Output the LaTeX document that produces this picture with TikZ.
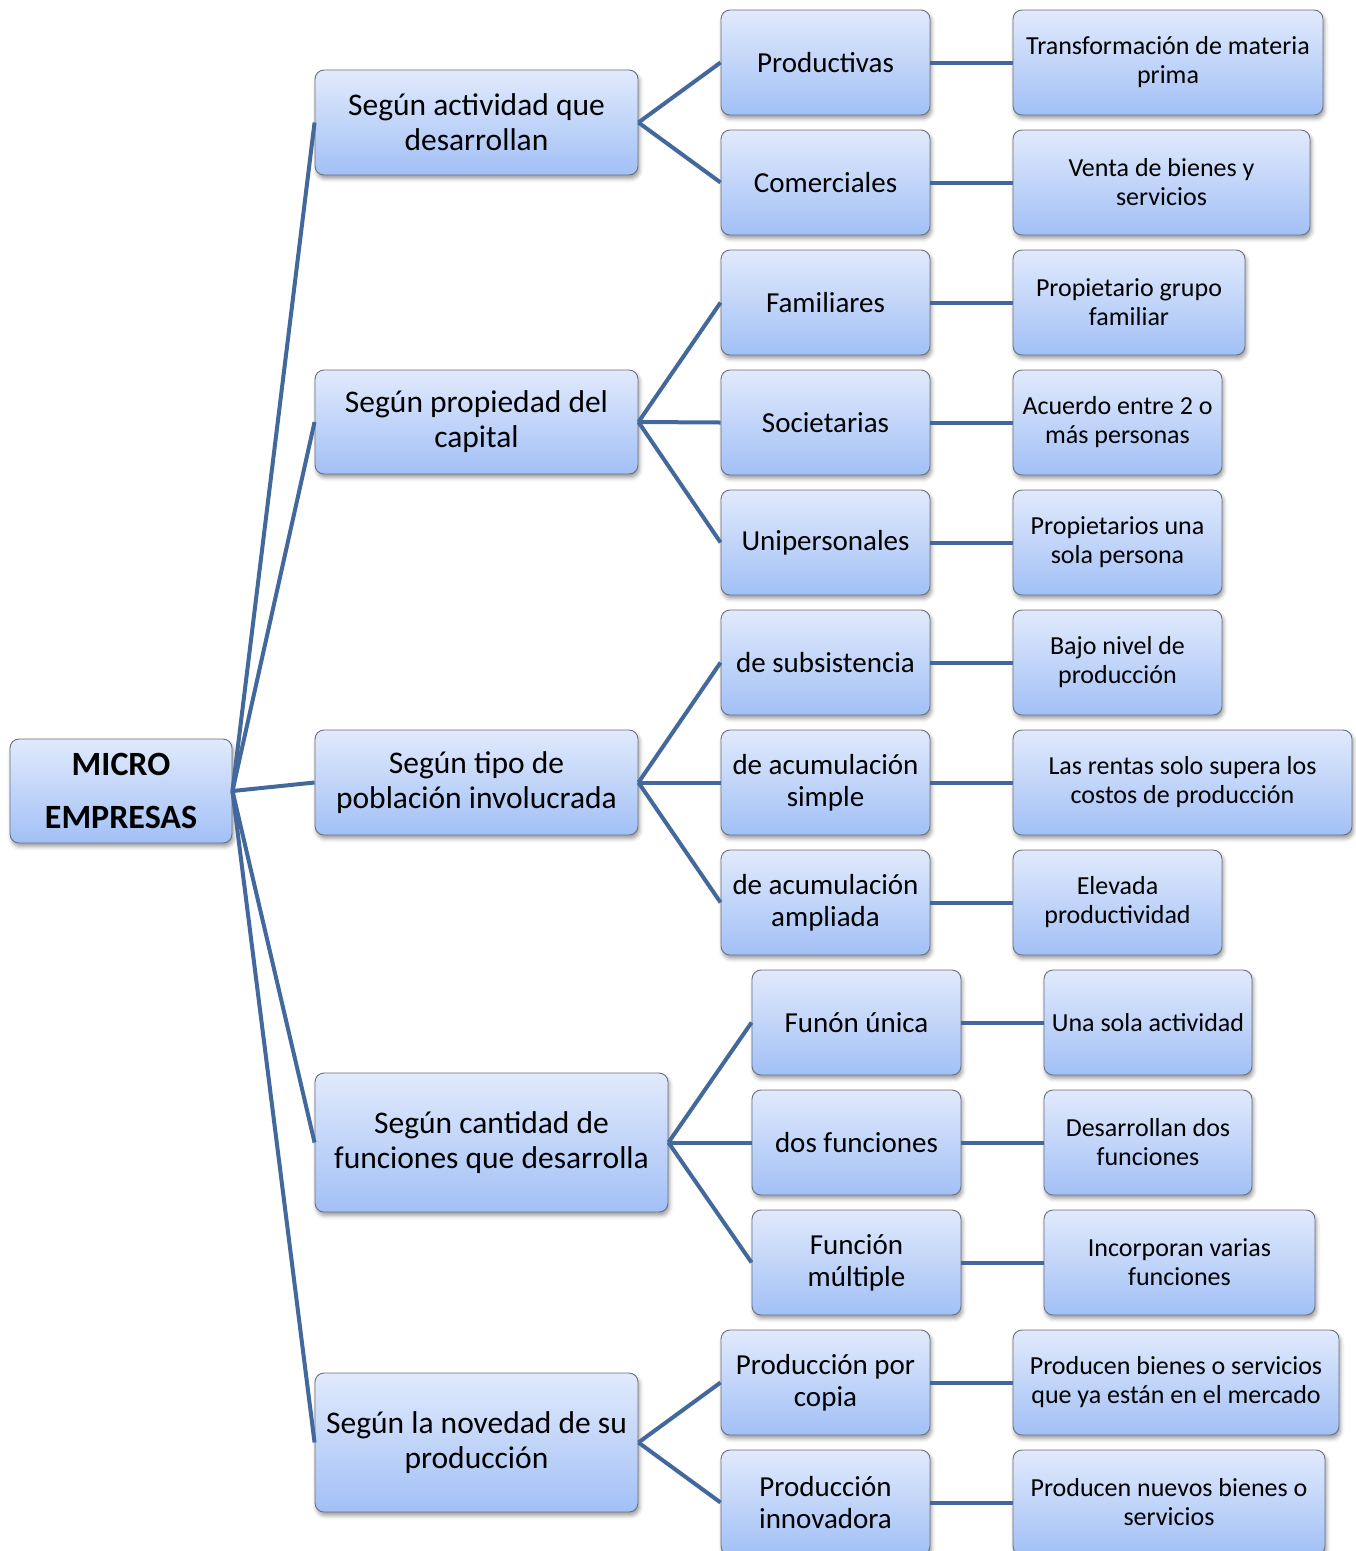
\documentclass[tikz,border=0pt]{standalone}
\usepackage{fontspec}
\setmainfont{Carlito}
\usetikzlibrary{shadows.blur}

\definecolor{boxtop}{RGB}{225,234,252}
\definecolor{boxbot}{RGB}{162,192,246}
\definecolor{boxline}{RGB}{105,112,128}
\definecolor{linkblue}{RGB}{66,104,156}

% box given by its corners (x1,y1)-(x2,y2), y measured downwards
\newcommand\cornerbox[7]{%
  \pgfmathsetmacro\cbw{#5-#3}\pgfmathsetmacro\cbh{#6-#4}%
  \pgfmathsetmacro\cbx{(#3+#5)/2}\pgfmathsetmacro\cby{(#4+#6)/2}%
  \node[#2, minimum width=\cbw pt, minimum height=\cbh pt] (#1) at (\cbx,\cby) {#7};}

\tikzset{
  box/.style={rounded corners=9pt, draw=boxline, line width=0.9pt,
    top color=boxtop, bottom color=boxbot, align=center, inner sep=1pt,
    blur shadow={shadow xshift=1.5pt, shadow yshift=-3.5pt,
      shadow blur radius=4pt, shadow opacity=40}},
  rootbox/.style={box, font=\fontsize{34}{53}\selectfont\bfseries},
  catbox/.style={box, font=\fontsize{31.5}{35}\selectfont},
  typebox/.style={box, font=\fontsize{29}{32}\selectfont},
  notebox/.style={box, font=\fontsize{26}{29}\selectfont},
  link/.style={draw=linkblue, line width=4pt}
}

\begin{document}
\begin{tikzpicture}[x=1pt, y=-1pt]
\useasboundingbox (0,0) rectangle (1356,1551);
\clip (0,0) rectangle (1356,1551);

% root
\cornerbox{root}{rootbox}{10}{739}{232}{843}{MICRO\\EMPRESAS}

% classification criteria
\cornerbox{c1}{catbox}{315}{70}{638}{175}{Según actividad que\\desarrollan}
\cornerbox{c2}{catbox}{315}{370}{638}{474}{Según propiedad del\\capital}
\cornerbox{c3}{catbox}{315}{730}{638}{835}{Según tipo de\\población involucrada}
\cornerbox{c4}{catbox}{315}{1073}{668}{1212}{Según cantidad de\\funciones que desarrolla}
\cornerbox{c5}{catbox}{315}{1373}{638}{1512}{Según la novedad de su\\producción}

% types
\cornerbox{t1}{typebox}{721}{10}{930}{115}{Productivas}
\cornerbox{t2}{typebox}{721}{130}{930}{235}{Comerciales}
\cornerbox{t3}{typebox}{721}{250}{930}{355}{Familiares}
\cornerbox{t4}{typebox}{721}{370}{930}{475}{Societarias}
\cornerbox{t5}{typebox}{721}{490}{930}{595}{Unipersonales}
\cornerbox{t6}{typebox}{721}{610}{930}{715}{de subsistencia}
\cornerbox{t7}{typebox}{721}{730}{930}{835}{de acumulación\\simple}
\cornerbox{t8}{typebox}{721}{850}{930}{955}{de acumulación\\ampliada}
\cornerbox{t9}{typebox}{752}{970}{961}{1075}{Funón única}
\cornerbox{t10}{typebox}{752}{1090}{961}{1195}{dos funciones}
\cornerbox{t11}{typebox}{752}{1210}{961}{1315}{Función\\múltiple}
\cornerbox{t12}{typebox}{721}{1330}{930}{1435}{Producción por\\copia}
\cornerbox{t13}{typebox}{721}{1450}{930}{1555}{Producción\\innovadora}

% descriptions
\cornerbox{n1}{notebox}{1013}{10}{1323}{115}{Transformación de materia\\prima}
\cornerbox{n2}{notebox}{1013}{130}{1310}{235}{Venta de bienes y\\servicios}
\cornerbox{n3}{notebox}{1013}{250}{1245}{355}{Propietario grupo\\familiar}
\cornerbox{n4}{notebox}{1013}{370}{1222}{475}{Acuerdo entre 2 o\\más personas}
\cornerbox{n5}{notebox}{1013}{490}{1222}{595}{Propietarios una\\sola persona}
\cornerbox{n6}{notebox}{1013}{610}{1222}{715}{Bajo nivel de\\producción}
\cornerbox{n7}{notebox}{1013}{730}{1352}{835}{Las rentas solo supera los\\costos de producción}
\cornerbox{n8}{notebox}{1013}{850}{1222}{955}{Elevada\\productividad}
\cornerbox{n9}{notebox}{1044}{970}{1252}{1075}{Una sola actividad}
\cornerbox{n10}{notebox}{1044}{1090}{1252}{1195}{Desarrollan dos\\funciones}
\cornerbox{n11}{notebox}{1044}{1210}{1315}{1315}{Incorporan varias\\funciones}
\cornerbox{n12}{notebox}{1013}{1330}{1339}{1435}{Producen bienes o servicios\\que ya están en el mercado}
\cornerbox{n13}{notebox}{1013}{1450}{1325}{1555}{Producen nuevos bienes o\\servicios}

% connectors
\foreach \c in {c1,c2,c3,c4,c5}
  \draw[link] (root.east) -- (\c.west);
\foreach \c/\t in {c1/t1,c1/t2,c2/t3,c2/t4,c2/t5,c3/t6,c3/t7,c3/t8,
                   c4/t9,c4/t10,c4/t11,c5/t12,c5/t13}
  \draw[link] (\c.east) -- (\t.west);
\foreach \i in {1,...,13}
  \draw[link] (t\i.east) -- (n\i.west);
\end{tikzpicture}
\end{document}
